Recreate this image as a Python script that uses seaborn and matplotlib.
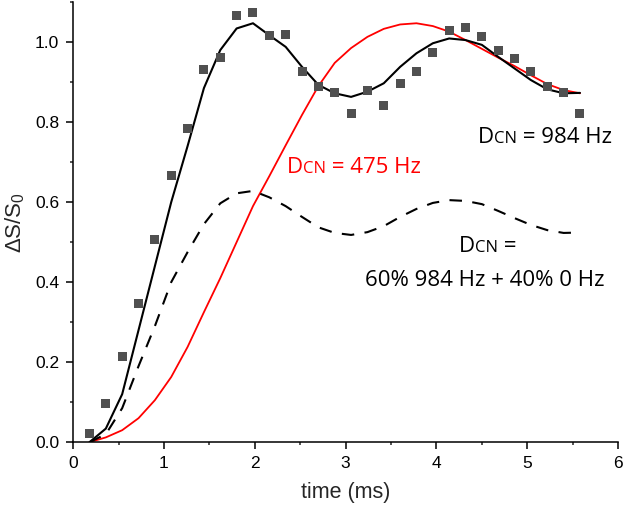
import matplotlib
matplotlib.use("Agg")
import matplotlib.pyplot as plt
import seaborn as sns
from matplotlib.offsetbox import TextArea, HPacker, AnnotationBbox
from matplotlib.ticker import MultipleLocator

sns.set_style("ticks")
plt.rcParams['font.family'] = ['Liberation Sans', 'DejaVu Sans']
plt.rcParams['mathtext.default'] = 'regular'

# time axis (ms)
time_ms = [0.18, 0.36, 0.54, 0.72, 0.90, 1.08, 1.26, 1.44, 1.62, 1.80, 1.98,
           2.16, 2.34, 2.52, 2.70, 2.88, 3.06, 3.24, 3.42, 3.60, 3.78, 3.96,
           4.14, 4.32, 4.50, 4.68, 4.86, 5.04, 5.22, 5.40, 5.58]

# measured points
measured = [0.022, 0.097, 0.213, 0.347, 0.507, 0.666, 0.784, 0.932, 0.962, 1.067, 1.073,
            1.017, 1.020, 0.927, 0.889, 0.873, 0.822, 0.878, 0.842, 0.897, 0.927, 0.975,
            1.028, 1.037, 1.015, 0.978, 0.960, 0.927, 0.890, 0.873, 0.822]

# simulation D_CN = 984 Hz
sim_984 = [0.0, 0.034, 0.12, 0.28, 0.44, 0.60, 0.74, 0.885, 0.98, 1.034, 1.047,
           1.017, 0.988, 0.938, 0.893, 0.872, 0.863, 0.876, 0.897, 0.938, 0.972, 0.997,
           1.009, 1.005, 0.993, 0.963, 0.934, 0.905, 0.882, 0.872, 0.873]

# simulation D_CN = 475 Hz
sim_475 = [0.0, 0.012, 0.03, 0.06, 0.105, 0.163, 0.238, 0.325, 0.41, 0.50, 0.59,
           0.665, 0.742, 0.818, 0.89, 0.948, 0.985, 1.013, 1.033, 1.044, 1.047, 1.04,
           1.026, 1.005, 0.983, 0.961, 0.94, 0.917, 0.895, 0.88, 0.872]

# simulation 60% 984 Hz + 40% 0 Hz
sim_mix = [0.0, 0.02, 0.085, 0.19, 0.29, 0.40, 0.475, 0.545, 0.597, 0.622, 0.628,
           0.612, 0.59, 0.563, 0.537, 0.523, 0.518, 0.525, 0.54, 0.563, 0.583, 0.598,
           0.605, 0.603, 0.595, 0.578, 0.56, 0.543, 0.53, 0.523, 0.524]

fig = plt.figure(figsize=(6.25, 5.13), dpi=100)
ax = fig.add_axes([0.117, 0.138, 0.872, 0.858])

sns.lineplot(x=time_ms, y=sim_475, ax=ax, color='#ff0000', linewidth=1.3)
sns.lineplot(x=time_ms, y=sim_984, ax=ax, color='black', linewidth=1.5)
sns.lineplot(x=time_ms, y=sim_mix, ax=ax, color='black', linewidth=1.5,
             linestyle=(0, (6, 5)))
sns.scatterplot(x=time_ms, y=measured, ax=ax, marker='s', s=42, color='#505050',
                edgecolor='none', zorder=5)

ax.set_xlim(0, 6)
ax.set_ylim(0, 1.1)
ax.xaxis.set_major_locator(MultipleLocator(1))
ax.xaxis.set_minor_locator(MultipleLocator(0.5))
ax.yaxis.set_major_locator(MultipleLocator(0.2))
ax.yaxis.set_minor_locator(MultipleLocator(0.1))
ax.yaxis.set_major_formatter(matplotlib.ticker.FormatStrFormatter('%.1f'))
ax.tick_params(which='major', direction='out', length=5, width=1.1, labelsize=12.5,
               colors='black', pad=5)
ax.tick_params(which='minor', direction='out', length=2.5, width=1.1)
for s in ['left', 'bottom']:
    ax.spines[s].set_linewidth(1.1)
    ax.spines[s].set_color('black')
sns.despine(ax=ax)

ax.set_xlabel("time (ms)", fontsize=15.5, labelpad=8)
ax.set_ylabel(r"ΔS/S$_0$", fontsize=16, labelpad=6)


def dcn_label(x, y, rest, color, size=16):
    font = ['Open Sans', 'DejaVu Sans']
    parts = [TextArea("D", textprops=dict(color=color, fontsize=size, family=font)),
             TextArea("CN", textprops=dict(color=color, fontsize=size * 0.75, family=font))]
    if rest:
        parts.append(TextArea(rest, textprops=dict(color=color, fontsize=size, family=font)))
    box = HPacker(children=parts, align='baseline', pad=0, sep=0)
    ab = AnnotationBbox(box, (x, y), xycoords='data', box_alignment=(0, 0),
                        frameon=False, pad=0)
    ax.add_artist(ab)


dcn_label(4.46, 0.735, " = 984 Hz", 'black')
dcn_label(2.35, 0.66, " = 475 Hz", '#ff0000')
dcn_label(4.25, 0.462, " =", 'black')
ax.text(3.21, 0.39, "60% 984 Hz + 40% 0 Hz", fontsize=16, color='black',
        family=['Open Sans', 'DejaVu Sans'], va='baseline')

fig.savefig("out.png", dpi=100)
